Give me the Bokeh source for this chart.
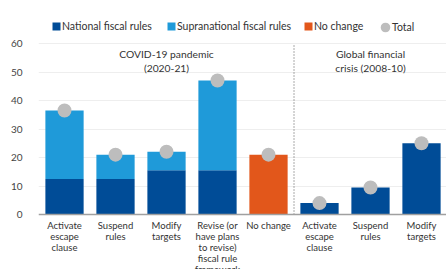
from bokeh.plotting import figure
from bokeh.models import ColumnDataSource, FixedTicker, Legend, LegendItem, Span
from bokeh.core.properties import value
from bokeh.embed import file_html
from bokeh.resources import INLINE

# ---- data ----
categories = [
    "Activate\nescape\nclause", "Suspend\nrules", "Modify\ntargets",
    "Revise (or\nhave plans\nto revise)\nfiscal rule\nframework", "No change",
    "Activate\nescape\nclause", "Suspend\nrules", "Modify\ntargets",
]
national = [12.5, 12.5, 15.5, 15.5, 0, 4, 9.5, 25]
supranational = [24, 8.5, 6.5, 31.5, 0, 0, 0, 0]
no_change = [0, 0, 0, 0, 21, 0, 0, 0]
series_labels = ["National fiscal rules", "Supranational fiscal rules", "No change", "Total"]
group_labels = ["COVID-19 pandemic\n(2020-21)", "Global financial\ncrisis (2008-10)"]
group_sizes = [5, 3]
y_ticks = [0, 10, 20, 30, 40, 50, 60]

x = list(range(len(categories)))
totals = [a + b + c for a, b, c in zip(national, supranational, no_change)]

FONT = "Lato"
C_NAT = "#004C97"
C_SUP = "#1F9AD9"
C_NO = "#E2571B"
C_TOT = "#BDBDBD"

src = ColumnDataSource(dict(x=x, national=national, supranational=supranational,
                            no_change=no_change, total=totals, label=categories))

p = figure(width=446, height=269, output_backend="svg", toolbar_location=None,
           x_range=(-0.51, 7.49), y_range=(-19.3, 75.1), x_axis_type=None,
           min_border_left=38, min_border_right=0, min_border_top=0, min_border_bottom=0)
p.outline_line_color = None
p.background_fill_color = "white"

stack = p.vbar_stack(["national", "supranational"], x="x", width=0.75, source=src,
                     color=[C_NAT, C_SUP], line_color=None)
nc = p.vbar(x="x", top="no_change", width=0.75, source=src, color=C_NO, line_color=None)

# baseline
p.add_layout(Span(location=0, dimension="width", line_color="#A0A0A0", line_width=1.5))

tot = p.ellipse(x="x", y="total", source=src, width=14, height=14,
                width_units="screen", height_units="screen",
                fill_color=C_TOT, line_color=None)

# separator between groups
sep = group_sizes[0] - 0.5
p.segment(x0=[sep], y0=[0], x1=[sep], y1=[y_ticks[-1]], line_color="#555555",
          line_width=1, line_dash="1 2")

# group labels
centers = [(group_sizes[0] - 1) / 2, group_sizes[0] + (group_sizes[1] - 1) / 2]
p.text(x=centers, y=[58.3, 58.3], text=group_labels, text_align="center",
       text_baseline="top", text_font=value(FONT), text_font_size="10.3px",
       text_color="#333333", text_line_height=1.15)

# category labels below the baseline
p.text(x="x", y=-1.9, text="label", source=src, text_align="center",
       text_baseline="top", text_font=value(FONT), text_font_size="9.5px",
       text_color="#333333", text_line_height=1.0)

p.yaxis.ticker = FixedTicker(ticks=y_ticks)
p.yaxis.axis_line_color = None
p.yaxis.major_tick_line_color = None
p.yaxis.minor_tick_line_color = None
p.yaxis.major_label_text_font = FONT
p.yaxis.major_label_text_font_size = "10px"
p.yaxis.major_label_text_color = "#444444"
p.yaxis.major_label_standoff = 10

p.xgrid.grid_line_color = None
p.ygrid.grid_line_color = "#EEEEEE"
p.ygrid.ticker = FixedTicker(ticks=y_ticks[1:])

# one legend per entry so each sits where the reference puts it
legend_renderers = [stack[0], stack[1], nc, tot]
legend_x = [13, 128, 265, 341]          # frame pixels
legend_y = [237, 237, 237, 236]
legend_box = [10, 10, 10, 12]
for lab, r, lx, ly, bx in zip(series_labels, legend_renderers, legend_x, legend_y, legend_box):
    lg = Legend(items=[LegendItem(label=lab, renderers=[r])],
                location=(lx, ly), orientation="horizontal", margin=0, padding=0,
                glyph_width=bx, glyph_height=bx, label_height=10, label_standoff=1,
                label_text_font=FONT, label_text_font_size="10.5px",
                label_text_color="#333333", border_line_color=None,
                background_fill_alpha=0)
    p.add_layout(lg)

open("out.html", "w").write(file_html(p, INLINE))
